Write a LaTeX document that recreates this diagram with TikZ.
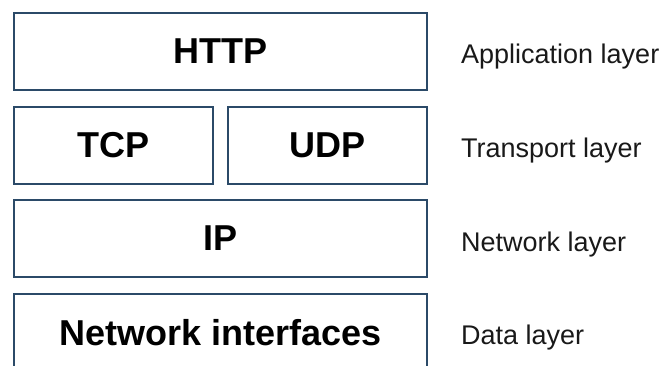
\documentclass[tikz,border=0pt]{standalone}
\usepackage{fontspec}
\setmainfont{Liberation Sans}
\definecolor{boxline}{HTML}{2B4A68}
\tikzset{
    layerbox/.style={draw=boxline, line width=2.6pt, fill=white, inner sep=0pt,
        minimum height=77pt, font=\fontsize{36}{40}\selectfont\bfseries, text=black},
    layername/.style={anchor=base west, inner sep=0pt,
        font=\fontsize{27}{30}\selectfont, text=black!90}
}
\begin{document}
\begin{tikzpicture}[x=1pt, y=-1pt]
    \useasboundingbox (0, 0) rectangle (662, 365);
    \clip (0, 0) rectangle (662, 365);

    % Protocol boxes (pixel coordinates, y grows downwards)
    \node[layerbox, minimum width=413pt] (http) at (220.5, 51.5) {HTTP};
    \node[layerbox, minimum width=199pt] (tcp) at (113.5, 145.5) {TCP};
    \node[layerbox, minimum width=199pt] (udp) at (327.5, 145.5) {UDP};
    \node[layerbox, minimum width=413pt] (ip) at (220.5, 238.5) {IP};
    \node[layerbox, minimum width=413pt] (netif) at (220.5, 332.5) {Network interfaces};

    % Layer names
    \foreach \y/\name/\label in {63/app/Application layer, 157/trans/Transport layer,
                                 251/net/Network layer, 344/data/Data layer} {
        \node[layername] (\name) at (461, \y) {\label};
    }
\end{tikzpicture}
\end{document}
